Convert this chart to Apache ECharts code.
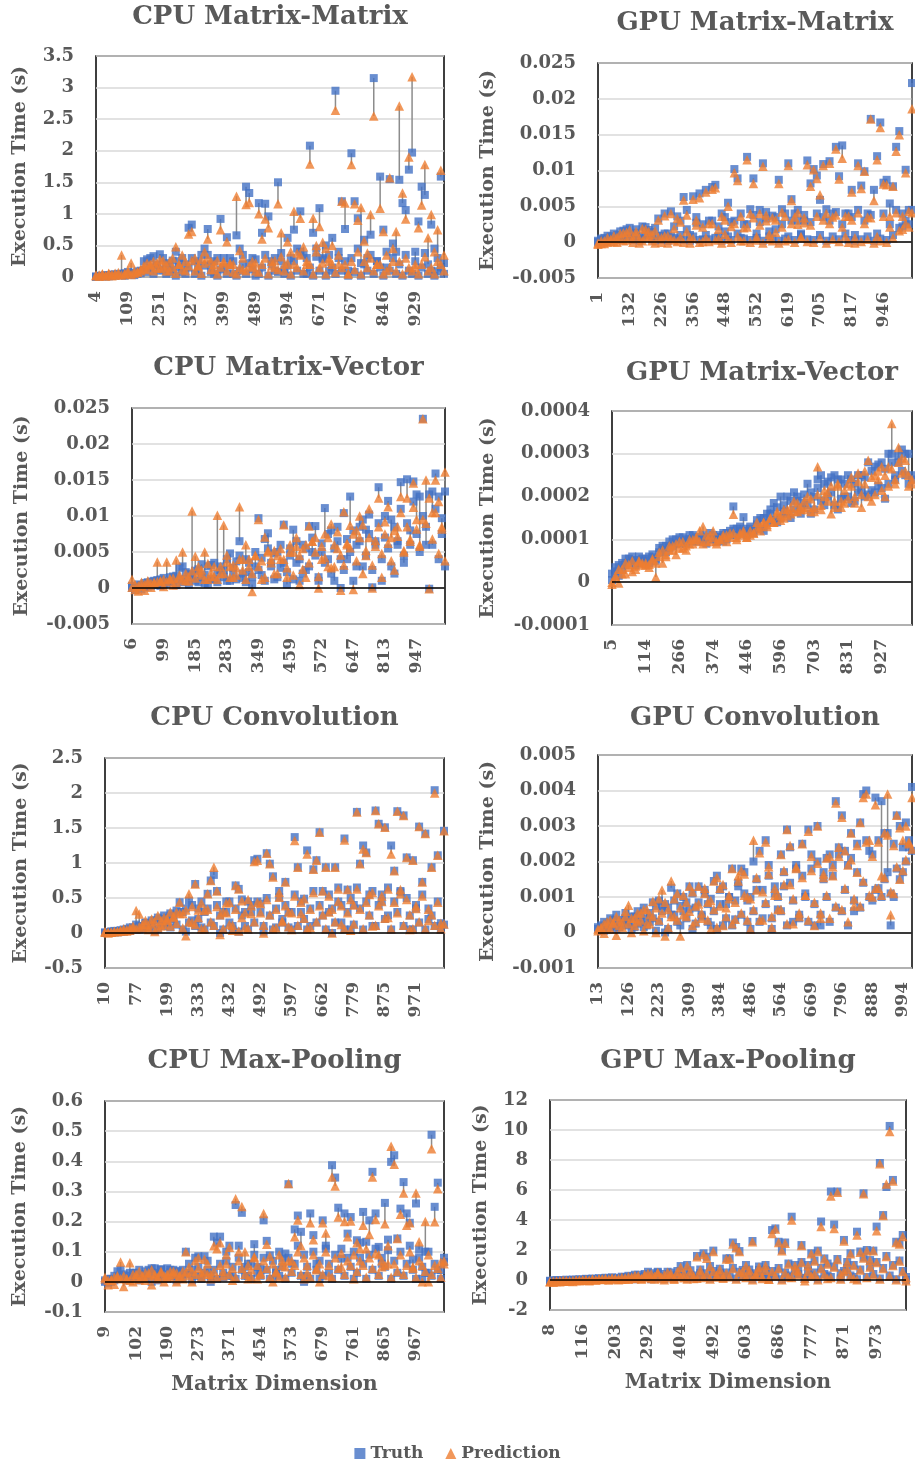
<!DOCTYPE html>
<html>
<head>
<meta charset="utf-8">
<title>Execution time: truth vs prediction</title>
<script src="https://cdn.jsdelivr.net/npm/echarts@6/dist/echarts.min.js"></script>
<style>
  html, body { margin: 0; padding: 0; background: #fff; }
  #main { width: 915px; height: 1465px; }
</style>
</head>
<body>
<div id="main"></div>
<script>
// Each panel: dims (x categories), truth/pred (one pair per dim),
// truthB/predB (second run falling in the same dimension bin)

// ---- CPU Matrix-Matrix ----
var cpuMMDims = [4,12,23,31,45,52,66,78,89,97,
  109,121,138,150,167,182,199,213,228,240,
  251,259,266,274,282,290,297,305,312,320,
  327,334,341,349,356,363,371,378,385,392,
  399,408,417,426,435,444,453,462,471,480,
  489,500,510,521,531,542,552,563,573,584,
  594,602,610,617,625,633,640,648,656,663,
  671,680,690,700,709,719,728,738,748,757,
  767,775,783,791,799,807,815,823,831,838,
  846,854,862,871,879,887,896,904,912,921,
  929,936,944,951,958,966,973,981,988,996];
var cpuMMTruth = [0.01,0.01,0.02,0.01,0.03,0.02,0.04,0.05,0.03,0.06,
  0.08,0.04,0.07,0.05,0.10,0.25,0.28,0.30,0.33,0.20,
  0.36,0.12,0.22,0.08,0.26,0.40,0.15,0.30,0.05,0.78,
  0.83,0.25,0.10,0.35,0.45,0.76,0.20,0.05,0.30,0.92,
  0.15,0.63,0.30,0.05,0.66,0.45,0.20,1.43,1.33,0.30,
  0.02,1.17,0.70,1.16,0.96,0.25,0.10,1.50,0.25,0.12,
  0.62,0.30,0.75,0.45,1.04,0.35,0.05,2.08,0.70,0.32,
  1.09,0.30,0.50,0.10,0.62,2.95,0.30,1.20,0.76,0.10,
  1.96,1.20,0.93,0.22,0.59,0.30,0.67,3.15,0.25,1.59,
  0.75,0.15,1.55,0.53,0.40,1.54,1.17,1.06,1.70,1.97,
  0.40,0.88,1.43,1.30,0.20,0.83,0.45,0.09,1.59,0.22];
var cpuMMPred = [0.02,0.03,0.05,0.02,0.06,0.04,0.03,0.07,0.35,0.05,
  0.10,0.22,0.09,0.08,0.12,0.18,0.22,0.20,0.25,0.15,
  0.28,0.16,0.19,0.10,0.30,0.48,0.20,0.35,0.10,0.68,
  0.72,0.30,0.18,0.28,0.40,0.60,0.25,0.12,0.26,0.75,
  0.22,0.56,0.20,0.08,1.28,0.42,0.12,1.15,1.18,0.25,
  0.10,1.00,0.60,0.92,0.78,0.18,0.15,1.16,0.70,0.20,
  0.56,0.40,1.04,0.38,0.93,0.48,0.20,1.79,0.93,0.50,
  0.80,0.55,0.45,0.25,0.50,2.64,0.20,1.20,1.17,0.05,
  1.78,1.16,0.90,1.10,0.57,0.38,0.99,2.55,0.20,1.09,
  0.72,0.10,1.57,0.45,0.72,2.71,1.33,0.92,1.90,3.17,
  0.15,0.78,1.14,1.78,0.62,0.99,0.40,0.75,1.69,0.35];
var cpuMMTruthB = [0.00,0.02,0.01,0.03,0.01,0.04,0.02,0.03,0.05,0.02,
  0.04,0.06,0.03,0.09,0.06,0.12,0.08,0.15,0.05,0.18,
  0.10,0.30,0.05,0.20,0.12,0.02,0.25,0.08,0.20,0.15,
  0.30,0.05,0.22,0.02,0.18,0.35,0.08,0.25,0.02,0.12,
  0.30,0.05,0.18,0.25,0.02,0.10,0.35,0.05,0.22,0.12,
  0.28,0.05,0.15,0.35,0.02,0.20,0.30,0.08,0.38,0.05,
  0.18,0.02,0.25,0.10,0.40,0.05,0.30,0.15,0.02,0.45,
  0.10,0.28,0.02,0.35,0.15,0.05,0.40,0.10,0.25,0.02,
  0.30,0.08,0.45,0.02,0.20,0.10,0.35,0.05,0.25,0.15,
  0.02,0.40,0.10,0.30,0.05,0.20,0.02,0.35,0.10,0.05,
  0.25,0.02,0.15,0.38,0.05,0.10,0.02,0.30,0.15,0.05];
var cpuMMPredB = [0.03,0.01,0.04,0.02,0.05,0.02,0.06,0.04,0.03,0.05,
  0.07,0.04,0.06,0.08,0.10,0.14,0.12,0.18,0.10,0.22,
  0.14,0.26,0.10,0.24,0.16,0.06,0.20,0.12,0.25,0.18,
  0.26,0.10,0.18,0.06,0.22,0.30,0.12,0.20,0.05,0.16,
  0.25,0.10,0.22,0.20,0.05,0.15,0.30,0.10,0.18,0.16,
  0.22,0.08,0.20,0.30,0.05,0.25,0.26,0.12,0.32,0.10,
  0.22,0.05,0.20,0.15,0.35,0.10,0.25,0.20,0.05,0.40,
  0.15,0.22,0.05,0.30,0.20,0.08,0.35,0.15,0.20,0.05,
  0.25,0.12,0.40,0.05,0.25,0.15,0.30,0.10,0.20,0.20,
  0.05,0.35,0.15,0.25,0.10,0.25,0.05,0.30,0.15,0.10,
  0.20,0.05,0.20,0.32,0.10,0.15,0.05,0.25,0.20,0.10];

// ---- GPU Matrix-Matrix ----
var gpuMMDims = [1,14,27,40,53,66,79,92,105,118,
  132,141,151,160,170,179,189,198,207,217,
  226,239,252,265,278,291,304,317,330,343,
  356,365,374,384,393,402,411,420,430,439,
  448,458,469,479,490,500,510,521,531,542,
  552,559,565,572,579,585,592,599,606,612,
  619,628,636,645,653,662,671,679,688,696,
  705,716,727,739,750,761,772,783,795,806,
  817,830,843,856,869,882,894,907,920,933,
  946,952,958,964,970,975,981,987,993,1004];
var gpuMMTruth = [0.0000,0.0003,0.0006,0.0002,0.0008,0.0004,0.0010,0.0015,0.0005,0.0018,
  0.0020,0.0008,0.0013,0.0002,0.0022,0.0011,0.0017,0.0004,0.0020,0.0033,
  0.0009,0.0040,0.0012,0.0043,0.0006,0.0036,0.0030,0.0063,0.0045,0.0010,
  0.0064,0.0027,0.0068,0.0004,0.0073,0.0030,0.0077,0.0080,0.0008,0.0040,
  0.0015,0.0055,0.0028,0.0102,0.0089,0.0006,0.0025,0.0119,0.0046,0.0089,
  0.0012,0.0045,0.0110,0.0033,0.0008,0.0037,0.0018,0.0087,0.0046,0.0005,
  0.0110,0.0060,0.0040,0.0030,0.0010,0.0030,0.0114,0.0082,0.0102,0.0093,
  0.0059,0.0109,0.0046,0.0113,0.0040,0.0133,0.0092,0.0135,0.0012,0.0040,
  0.0073,0.0002,0.0110,0.0079,0.0099,0.0040,0.0172,0.0073,0.0120,0.0167,
  0.0083,0.0087,0.0054,0.0078,0.0133,0.0155,0.0022,0.0101,0.0045,0.0222];
var gpuMMPred = [-0.0003,-0.0002,0.0002,0.0000,0.0004,0.0001,0.0007,0.0012,0.0002,0.0014,
  0.0017,0.0005,0.0010,-0.0001,0.0019,0.0008,0.0015,0.0002,0.0016,0.0031,
  0.0006,0.0037,0.0009,0.0040,0.0003,0.0033,0.0028,0.0059,0.0038,0.0006,
  0.0060,0.0024,0.0062,0.0001,0.0070,0.0026,0.0074,0.0076,0.0005,0.0036,
  0.0011,0.0050,0.0022,0.0097,0.0086,0.0002,0.0020,0.0115,0.0040,0.0082,
  0.0008,0.0040,0.0106,0.0030,0.0004,0.0034,0.0014,0.0082,0.0042,0.0002,
  0.0107,0.0058,0.0035,0.0025,0.0006,0.0027,0.0108,0.0078,0.0101,0.0089,
  0.0066,0.0107,0.0040,0.0110,0.0035,0.0130,0.0088,0.0117,0.0008,0.0036,
  0.0070,-0.0001,0.0107,0.0075,0.0099,0.0035,0.0172,0.0058,0.0115,0.0160,
  0.0081,0.0080,0.0036,0.0078,0.0127,0.0150,0.0018,0.0097,0.0043,0.0186];
var gpuMMTruthB = [0.0002,0.0005,0.0001,0.0009,0.0004,0.0012,0.0003,0.0007,0.0016,0.0006,
  0.0011,0.0003,0.0018,0.0008,0.0005,0.0021,0.0010,0.0014,0.0002,0.0009,
  0.0003,0.0012,0.0002,0.0008,0.0022,0.0004,0.0010,0.0003,0.0018,0.0002,
  0.0008,0.0035,0.0003,0.0025,0.0010,0.0004,0.0030,0.0006,0.0022,0.0002,
  0.0035,0.0008,0.0003,0.0030,0.0012,0.0040,0.0005,0.0025,0.0003,0.0038,
  0.0006,0.0028,0.0002,0.0042,0.0015,0.0005,0.0035,0.0002,0.0025,0.0040,
  0.0008,0.0030,0.0003,0.0045,0.0012,0.0038,0.0004,0.0028,0.0003,0.0040,
  0.0010,0.0035,0.0002,0.0030,0.0008,0.0042,0.0004,0.0025,0.0040,0.0003,
  0.0035,0.0010,0.0045,0.0004,0.0030,0.0008,0.0038,0.0002,0.0012,0.0005,
  0.0040,0.0003,0.0025,0.0010,0.0045,0.0020,0.0040,0.0030,0.0025,0.0045];
var gpuMMPredB = [-0.0001,0.0002,-0.0002,0.0006,0.0001,0.0009,0.0000,0.0004,0.0013,0.0003,
  0.0008,0.0000,0.0015,0.0005,0.0002,0.0018,0.0007,0.0011,-0.0001,0.0006,
  0.0000,0.0009,-0.0001,0.0005,0.0019,0.0001,0.0007,0.0000,0.0015,-0.0001,
  0.0005,0.0031,0.0000,0.0021,0.0006,0.0001,0.0026,0.0003,0.0018,-0.0001,
  0.0031,0.0004,0.0000,0.0026,0.0008,0.0036,0.0002,0.0021,0.0000,0.0034,
  0.0003,0.0024,-0.0001,0.0038,0.0011,0.0002,0.0031,-0.0001,0.0021,0.0036,
  0.0004,0.0026,0.0000,0.0041,0.0008,0.0034,0.0001,0.0024,0.0000,0.0036,
  0.0006,0.0031,-0.0001,0.0026,0.0004,0.0038,0.0001,0.0021,0.0036,0.0000,
  0.0031,0.0006,0.0041,0.0001,0.0026,0.0004,0.0034,-0.0001,0.0008,0.0002,
  0.0036,0.0000,0.0021,0.0006,0.0041,0.0016,0.0036,0.0026,0.0021,0.0041];

// ---- CPU Matrix-Vector ----
var cpuMVDims = [6,15,24,33,43,52,61,71,80,90,
  99,108,116,125,134,142,151,160,168,177,
  185,195,205,215,224,234,244,254,264,273,
  283,290,296,303,309,316,323,329,336,342,
  349,360,371,382,393,404,415,426,437,448,
  459,470,482,493,504,516,527,538,550,561,
  572,580,587,595,602,610,617,625,632,640,
  647,664,680,697,713,730,747,763,780,796,
  813,826,840,853,867,880,893,907,920,934,
  947,957,962,967,973,978,988,993,998,1003];
var cpuMVTruth = [0.0000,-0.0003,0.0002,0.0004,0.0001,0.0008,0.0003,0.0010,0.0006,0.0012,
  0.0005,0.0010,0.0015,0.0008,0.0017,0.0028,0.0030,0.0012,0.0020,0.0015,
  0.0024,0.0008,0.0033,0.0018,0.0006,0.0032,0.0012,0.0020,0.0030,0.0025,
  0.0010,0.0048,0.0020,0.0037,0.0065,0.0014,0.0040,0.0022,0.0005,0.0030,
  0.0097,0.0018,0.0068,0.0076,0.0035,0.0012,0.0050,0.0028,0.0088,0.0005,
  0.0055,0.0081,0.0035,0.0010,0.0060,0.0025,0.0086,0.0050,0.0086,0.0015,
  0.0050,0.0111,0.0040,0.0080,0.0010,0.0065,0.0000,0.0104,0.0040,0.0127,
  0.0010,0.0060,0.0085,0.0030,0.0081,0.0102,0.0001,0.0065,0.0140,0.0010,
  0.0070,0.0121,0.0095,0.0020,0.0060,0.0147,0.0035,0.0151,0.0080,0.0148,
  0.0130,0.0127,0.0235,0.0060,-0.0001,0.0134,0.0159,0.0127,0.0097,0.0134];
var cpuMVPred = [0.0012,-0.0002,-0.0004,0.0008,-0.0003,0.0010,0.0001,0.0007,0.0036,0.0009,
  0.0002,0.0036,0.0012,0.0004,0.0039,0.0014,0.0050,0.0010,0.0016,0.0107,
  0.0044,0.0030,0.0025,0.0050,0.0012,0.0022,0.0016,0.0101,0.0020,0.0087,
  0.0046,0.0030,0.0015,0.0028,0.0113,0.0040,0.0060,0.0030,-0.0005,0.0045,
  0.0095,0.0012,0.0071,0.0052,0.0040,0.0020,0.0045,0.0040,0.0088,0.0015,
  0.0060,0.0050,0.0070,0.0005,0.0055,0.0015,0.0086,0.0065,0.0070,0.0000,
  0.0040,0.0075,0.0030,0.0089,0.0030,0.0055,-0.0003,0.0106,0.0060,0.0087,
  -0.0002,0.0080,0.0100,0.0020,0.0045,0.0110,0.0000,0.0058,0.0125,0.0015,
  0.0075,0.0113,0.0070,0.0025,0.0085,0.0127,0.0050,0.0125,0.0065,0.0146,
  0.0095,0.0060,0.0235,0.0150,-0.0001,0.0105,0.0150,0.0120,0.0085,0.0161];
var cpuMVTruthB = [0.0003,0.0001,0.0005,-0.0002,0.0007,0.0002,0.0009,0.0004,0.0011,0.0003,
  0.0014,0.0006,0.0009,0.0016,0.0004,0.0012,0.0008,0.0022,0.0005,0.0018,
  0.0010,0.0026,0.0015,0.0007,0.0030,0.0012,0.0035,0.0008,0.0025,0.0015,
  0.0040,0.0010,0.0028,0.0012,0.0045,0.0020,0.0008,0.0035,0.0015,0.0050,
  0.0025,0.0042,0.0010,0.0055,0.0030,0.0048,0.0015,0.0060,0.0035,0.0022,
  0.0045,0.0012,0.0065,0.0040,0.0020,0.0055,0.0030,0.0070,0.0045,0.0010,
  0.0062,0.0035,0.0075,0.0020,0.0055,0.0085,0.0040,0.0025,0.0068,0.0050,
  0.0080,0.0030,0.0065,0.0095,0.0045,0.0075,0.0025,0.0060,0.0090,0.0040,
  0.0100,0.0055,0.0030,0.0085,0.0065,0.0110,0.0045,0.0090,0.0060,0.0120,
  0.0075,0.0050,0.0100,0.0085,0.0130,0.0060,0.0110,0.0040,0.0075,0.0030];
var cpuMVPredB = [0.0001,0.0004,0.0003,0.0002,0.0005,0.0006,0.0007,0.0008,0.0009,0.0010,
  0.0012,0.0009,0.0013,0.0014,0.0008,0.0018,0.0011,0.0020,0.0010,0.0024,
  0.0014,0.0022,0.0018,0.0012,0.0034,0.0016,0.0030,0.0012,0.0030,0.0020,
  0.0036,0.0015,0.0032,0.0018,0.0040,0.0025,0.0012,0.0040,0.0020,0.0045,
  0.0030,0.0038,0.0015,0.0050,0.0035,0.0052,0.0020,0.0055,0.0040,0.0028,
  0.0050,0.0018,0.0058,0.0045,0.0026,0.0060,0.0035,0.0065,0.0050,0.0016,
  0.0058,0.0042,0.0070,0.0028,0.0060,0.0078,0.0046,0.0032,0.0062,0.0056,
  0.0075,0.0038,0.0070,0.0088,0.0052,0.0070,0.0032,0.0066,0.0085,0.0048,
  0.0092,0.0062,0.0038,0.0080,0.0072,0.0105,0.0052,0.0085,0.0068,0.0112,
  0.0082,0.0058,0.0095,0.0090,0.0125,0.0068,0.0105,0.0048,0.0082,0.0038];

// ---- GPU Matrix-Vector ----
var gpuMVDims = [5,16,27,38,49,60,71,82,92,103,
  114,129,144,159,175,190,205,220,236,251,
  266,277,288,298,309,320,331,342,352,363,
  374,381,388,396,403,410,417,424,432,439,
  446,461,476,491,506,521,536,551,566,581,
  596,607,617,628,639,650,660,671,682,692,
  703,716,729,741,754,767,780,793,805,818,
  831,841,850,860,869,879,889,898,908,917,
  927,935,943,951,959,967,975,983,991,999];
var gpuMVTruth = [0.000020,0.000035,0.000015,0.000045,0.000040,0.000055,0.000050,0.000052,0.000045,0.000055,
  0.000050,0.000060,0.000058,0.000050,0.000080,0.000075,0.000085,0.000080,0.000100,0.000090,
  0.000105,0.000095,0.000100,0.000100,0.000110,0.000095,0.000105,0.000110,0.000090,0.000115,
  0.000100,0.000105,0.000110,0.000095,0.000115,0.000120,0.000177,0.000125,0.000130,0.000152,
  0.000120,0.000125,0.000115,0.000145,0.000150,0.000120,0.000160,0.000170,0.000185,0.000140,
  0.000200,0.000165,0.000200,0.000150,0.000210,0.000190,0.000160,0.000185,0.000230,0.000160,
  0.000200,0.000240,0.000250,0.000180,0.000235,0.000210,0.000250,0.000170,0.000240,0.000200,
  0.000250,0.000185,0.000230,0.000210,0.000250,0.000200,0.000280,0.000215,0.000270,0.000225,
  0.000280,0.000195,0.000300,0.000300,0.000240,0.000280,0.000310,0.000250,0.000300,0.000240];
var gpuMVPred = [-0.000005,0.000010,-0.000002,0.000030,0.000020,0.000042,0.000025,0.000038,0.000048,0.000045,
  0.000040,0.000042,0.000050,0.000012,0.000070,0.000045,0.000065,0.000075,0.000085,0.000065,
  0.000095,0.000080,0.000075,0.000090,0.000100,0.000105,0.000120,0.000130,0.000095,0.000110,
  0.000120,0.000095,0.000100,0.000105,0.000110,0.000115,0.000159,0.000100,0.000110,0.000120,
  0.000105,0.000110,0.000115,0.000140,0.000130,0.000140,0.000135,0.000150,0.000140,0.000160,
  0.000155,0.000150,0.000170,0.000160,0.000190,0.000165,0.000175,0.000170,0.000200,0.000165,
  0.000175,0.000270,0.000170,0.000200,0.000210,0.000160,0.000190,0.000230,0.000175,0.000185,
  0.000230,0.000245,0.000200,0.000255,0.000175,0.000260,0.000285,0.000190,0.000250,0.000240,
  0.000270,0.000200,0.000270,0.000371,0.000230,0.000315,0.000290,0.000260,0.000250,0.000230];
var gpuMVTruthB = [0.000005,0.000025,0.000040,0.000030,0.000055,0.000045,0.000060,0.000040,0.000060,0.000050,
  0.000055,0.000045,0.000065,0.000055,0.000070,0.000085,0.000070,0.000095,0.000085,0.000100,
  0.000090,0.000105,0.000090,0.000110,0.000095,0.000105,0.000100,0.000095,0.000105,0.000100,
  0.000110,0.000095,0.000105,0.000115,0.000100,0.000110,0.000125,0.000110,0.000120,0.000125,
  0.000110,0.000130,0.000120,0.000135,0.000125,0.000150,0.000140,0.000160,0.000145,0.000175,
  0.000150,0.000180,0.000160,0.000190,0.000170,0.000200,0.000175,0.000205,0.000180,0.000210,
  0.000170,0.000220,0.000190,0.000230,0.000200,0.000245,0.000180,0.000240,0.000195,0.000230,
  0.000200,0.000240,0.000190,0.000250,0.000215,0.000245,0.000205,0.000260,0.000210,0.000275,
  0.000220,0.000265,0.000230,0.000280,0.000250,0.000295,0.000260,0.000300,0.000230,0.000250];
var gpuMVPredB = [0.000000,0.000015,0.000030,0.000020,0.000045,0.000035,0.000050,0.000030,0.000050,0.000040,
  0.000045,0.000035,0.000055,0.000045,0.000060,0.000075,0.000060,0.000085,0.000075,0.000090,
  0.000080,0.000095,0.000085,0.000100,0.000090,0.000100,0.000095,0.000090,0.000110,0.000095,
  0.000105,0.000090,0.000100,0.000110,0.000095,0.000105,0.000115,0.000105,0.000115,0.000115,
  0.000105,0.000120,0.000115,0.000125,0.000120,0.000140,0.000130,0.000150,0.000140,0.000165,
  0.000145,0.000170,0.000155,0.000175,0.000165,0.000185,0.000170,0.000190,0.000175,0.000195,
  0.000165,0.000205,0.000180,0.000215,0.000190,0.000225,0.000175,0.000225,0.000190,0.000215,
  0.000195,0.000225,0.000185,0.000235,0.000205,0.000230,0.000200,0.000245,0.000205,0.000260,
  0.000215,0.000250,0.000225,0.000265,0.000240,0.000280,0.000255,0.000285,0.000225,0.000240];

// ---- CPU Convolution ----
var cpuConvDims = [10,16,23,30,36,43,50,57,63,70,
  77,89,101,114,126,138,150,162,175,187,
  199,212,226,239,252,266,279,293,306,320,
  333,343,353,363,373,383,393,403,412,422,
  432,438,444,450,456,462,468,474,480,486,
  492,503,513,524,534,545,555,566,576,587,
  597,604,610,617,623,630,636,643,649,656,
  662,674,686,697,709,721,732,744,756,767,
  779,789,798,808,817,827,837,846,856,865,
  875,885,894,904,913,923,933,942,952,961,
  971,974,977,980,983,986,989,992,995,998];
var cpuConvTruth = [0.00,0.01,0.02,0.01,0.03,0.02,0.05,0.04,0.08,0.06,
  0.12,0.05,0.10,0.15,0.08,0.18,0.03,0.22,0.12,0.25,
  0.15,0.28,0.20,0.32,0.44,0.30,0.02,0.46,0.18,0.70,
  0.35,0.08,0.30,0.56,0.75,0.83,0.60,0.00,0.30,0.45,
  0.15,0.05,0.68,0.63,0.25,0.10,0.45,0.30,1.04,1.06,
  0.42,0.02,1.14,0.99,0.81,0.08,0.51,0.20,0.73,0.30,
  0.05,1.37,0.94,0.30,0.49,1.18,0.10,0.91,1.04,1.44,
  0.60,0.94,0.30,0.00,0.94,0.45,0.15,1.35,0.62,0.05,
  0.40,1.73,0.99,1.25,1.15,0.55,0.10,1.75,1.56,0.45,
  1.51,0.25,1.25,0.89,1.74,0.60,1.68,1.08,0.05,1.04,
  0.35,1.52,0.73,1.42,0.20,0.94,2.04,1.11,0.14,1.46];
var cpuConvPred = [0.01,0.00,0.01,0.02,0.02,0.04,0.06,0.03,0.07,0.10,
  0.32,0.27,0.12,0.18,0.05,0.20,0.02,0.25,0.10,0.22,
  0.18,0.30,0.22,0.30,0.44,0.28,-0.04,0.56,0.15,0.70,
  0.33,0.06,0.32,0.56,0.75,0.94,0.60,-0.02,0.30,0.43,
  0.12,0.04,0.68,0.63,0.22,0.08,0.48,0.28,1.02,1.04,
  0.42,0.00,1.14,0.99,0.80,0.07,0.51,0.18,0.73,0.30,
  0.05,1.32,0.94,0.28,0.49,1.13,0.08,0.91,1.04,1.44,
  0.60,0.94,0.30,0.00,0.94,0.45,0.12,1.33,0.62,0.04,
  0.40,1.73,0.99,1.20,1.15,0.55,0.10,1.75,1.56,0.45,
  1.51,0.22,1.13,0.89,1.74,0.62,1.68,1.08,0.05,1.04,
  0.35,1.52,0.73,1.42,0.18,0.94,2.00,1.11,0.14,1.46];
var cpuConvTruthB = [0.01,0.00,0.02,0.03,0.01,0.04,0.02,0.06,0.03,0.08,
  0.05,0.10,0.06,0.14,0.08,0.12,0.18,0.06,0.20,0.10,
  0.22,0.08,0.25,0.12,0.30,0.05,0.35,0.15,0.40,0.10,
  0.20,0.45,0.05,0.35,0.15,0.10,0.40,0.25,0.05,0.30,
  0.45,0.10,0.35,0.02,0.48,0.30,0.05,0.40,0.15,0.45,
  0.30,0.10,0.50,0.25,0.05,0.35,0.60,0.15,0.40,0.08,
  0.30,0.55,0.10,0.45,0.20,0.05,0.35,0.60,0.15,0.40,
  0.25,0.05,0.55,0.35,0.15,0.65,0.40,0.05,0.30,0.50,
  0.12,0.65,0.35,0.05,0.45,0.25,0.60,0.10,0.40,0.55,
  0.20,0.65,0.05,0.45,0.30,0.58,0.10,0.50,0.25,0.05,
  0.40,0.15,0.55,0.05,0.35,0.25,0.10,0.45,0.05,0.12];
var cpuConvPredB = [0.02,0.01,0.01,0.02,0.02,0.03,0.03,0.05,0.04,0.07,
  0.06,0.09,0.07,0.12,0.09,0.13,0.16,0.08,0.18,0.12,
  0.20,0.10,0.24,0.14,0.28,0.07,0.33,0.16,0.38,0.12,
  0.22,0.43,0.06,0.34,0.16,0.11,0.38,0.26,0.06,0.29,
  0.44,0.11,0.34,0.03,0.46,0.29,0.06,0.39,0.16,0.44,
  0.29,0.11,0.48,0.26,0.06,0.34,0.58,0.16,0.39,0.09,
  0.29,0.53,0.11,0.44,0.21,0.06,0.34,0.58,0.16,0.39,
  0.26,0.06,0.53,0.34,0.16,0.63,0.39,0.06,0.29,0.48,
  0.13,0.63,0.34,0.06,0.44,0.26,0.58,0.11,0.39,0.53,
  0.21,0.63,0.06,0.44,0.29,0.56,0.11,0.48,0.26,0.06,
  0.39,0.16,0.53,0.06,0.34,0.26,0.11,0.44,0.06,0.13];

// ---- GPU Convolution ----
var gpuConvDims = [13,24,35,47,58,69,81,92,103,115,
  126,136,146,155,165,175,184,194,204,213,
  223,232,240,249,258,266,275,283,292,300,
  309,317,324,332,339,347,354,362,369,377,
  384,394,404,415,425,435,445,455,466,476,
  486,494,502,509,517,525,533,541,548,556,
  564,575,585,596,606,617,627,638,648,659,
  669,682,694,707,720,732,745,758,771,783,
  796,805,814,824,833,842,851,860,870,879,
  888,899,909,920,930,941,952,962,973,983,
  994,997,999,1002];
var gpuConvTruth = [0.00010,0.00020,0.00005,0.00025,0.00015,0.00035,0.00010,0.00030,0.00020,0.00040,
  0.00030,0.00010,0.00045,0.00025,0.00050,0.00015,0.00040,0.00030,0.00085,0.00005,
  0.00090,0.00075,0.00000,0.00070,0.00126,0.00050,0.00110,0.00020,0.00060,0.00085,
  0.00130,0.00010,0.00070,0.00130,0.00045,0.00110,0.00080,0.00020,0.00145,0.00160,
  0.00120,0.00020,0.00080,0.00100,0.00180,0.00037,0.00130,0.00180,0.00170,0.00090,
  0.00010,0.00200,0.00120,0.00230,0.00040,0.00260,0.00190,0.00010,0.00110,0.00065,
  0.00220,0.00130,0.00290,0.00240,0.00030,0.00180,0.00040,0.00250,0.00110,0.00290,
  0.00220,0.00020,0.00300,0.00020,0.00150,0.00210,0.00220,0.00160,0.00370,0.00240,
  0.00330,0.00230,0.00190,0.00280,0.00060,0.00170,0.00310,0.00390,0.00400,0.00230,
  0.00090,0.00380,0.00125,0.00370,0.00280,0.00170,0.00020,0.00100,0.00330,0.00150,
  0.00240,0.00310,0.00240,0.00410];
var gpuConvPred = [0.00005,0.00015,-0.00002,0.00030,0.00010,0.00028,-0.00008,0.00035,0.00015,0.00045,
  0.00077,0.00000,0.00040,0.00030,0.00055,0.00005,0.00065,0.00025,0.00088,0.00000,
  0.00095,0.00120,-0.00010,0.00065,0.00145,0.00045,0.00110,-0.00010,0.00050,0.00085,
  0.00130,0.00020,0.00075,0.00130,0.00040,0.00110,0.00085,0.00010,0.00145,0.00155,
  0.00125,0.00020,0.00070,0.00105,0.00180,0.00037,0.00160,0.00175,0.00165,0.00100,
  0.00010,0.00260,0.00120,0.00225,0.00035,0.00255,0.00185,0.00015,0.00105,0.00065,
  0.00220,0.00135,0.00290,0.00245,0.00025,0.00180,0.00045,0.00250,0.00105,0.00285,
  0.00215,0.00020,0.00300,0.00040,0.00155,0.00210,0.00215,0.00160,0.00365,0.00240,
  0.00325,0.00230,0.00190,0.00280,0.00075,0.00170,0.00310,0.00380,0.00390,0.00260,
  0.00100,0.00360,0.00125,0.00160,0.00280,0.00390,0.00050,0.00110,0.00330,0.00150,
  0.00260,0.00300,0.00250,0.00380];
var gpuConvTruthB = [0.00015,0.00005,0.00030,0.00010,0.00040,0.00020,0.00050,0.00015,0.00035,0.00055,
  0.00020,0.00045,0.00015,0.00060,0.00030,0.00070,0.00020,0.00055,0.00040,0.00075,
  0.00030,0.00060,0.00080,0.00010,0.00050,0.00090,0.00030,0.00075,0.00100,0.00040,
  0.00065,0.00110,0.00025,0.00085,0.00050,0.00120,0.00030,0.00095,0.00060,0.00010,
  0.00080,0.00130,0.00040,0.00100,0.00020,0.00090,0.00140,0.00050,0.00110,0.00030,
  0.00100,0.00060,0.00150,0.00030,0.00120,0.00080,0.00160,0.00040,0.00130,0.00100,
  0.00060,0.00170,0.00020,0.00140,0.00090,0.00190,0.00050,0.00160,0.00100,0.00030,
  0.00180,0.00080,0.00200,0.00050,0.00170,0.00100,0.00030,0.00190,0.00070,0.00220,
  0.00060,0.00120,0.00020,0.00210,0.00090,0.00250,0.00070,0.00140,0.00260,0.00100,
  0.00220,0.00120,0.00260,0.00100,0.00150,0.00280,0.00110,0.00250,0.00180,0.00300,
  0.00170,0.00200,0.00260,0.00230];
var gpuConvPredB = [0.00010,0.00010,0.00025,0.00015,0.00035,0.00025,0.00045,0.00020,0.00030,0.00060,
  0.00025,0.00040,0.00020,0.00055,0.00035,0.00065,0.00025,0.00050,0.00045,0.00070,
  0.00035,0.00055,0.00085,0.00015,0.00045,0.00095,0.00035,0.00070,0.00105,0.00045,
  0.00060,0.00115,0.00030,0.00080,0.00055,0.00125,0.00035,0.00090,0.00065,0.00015,
  0.00075,0.00135,0.00045,0.00095,0.00025,0.00085,0.00145,0.00055,0.00105,0.00035,
  0.00095,0.00065,0.00155,0.00035,0.00115,0.00085,0.00165,0.00045,0.00125,0.00105,
  0.00065,0.00175,0.00025,0.00135,0.00095,0.00185,0.00055,0.00155,0.00105,0.00035,
  0.00175,0.00085,0.00195,0.00055,0.00165,0.00105,0.00040,0.00185,0.00075,0.00215,
  0.00065,0.00125,0.00030,0.00205,0.00095,0.00245,0.00075,0.00145,0.00255,0.00105,
  0.00215,0.00125,0.00255,0.00105,0.00155,0.00275,0.00115,0.00245,0.00185,0.00295,
  0.00175,0.00205,0.00255,0.00235];

// ---- CPU Max-Pooling ----
var cpuMPDims = [9,18,27,37,46,55,65,74,83,93,
  102,111,120,128,137,146,155,164,172,181,
  190,198,207,215,223,232,240,248,256,265,
  273,283,293,302,312,322,332,342,351,361,
  371,379,388,396,404,413,421,429,437,446,
  454,466,478,490,502,514,525,537,549,561,
  573,584,594,605,615,626,637,647,658,668,
  679,687,695,704,712,720,728,736,745,753,
  761,771,782,792,803,813,823,834,844,855,
  865,875,885,896,906,916,926,936,947,957,
  967,971,974,978,981,985,988,992,995,999];
var cpuMPTruth = [0.000,-0.005,0.010,0.005,0.035,0.040,0.010,0.020,0.030,0.015,
  0.030,0.005,0.025,0.010,0.040,0.000,0.045,0.020,0.042,0.010,
  0.045,0.020,0.040,0.005,0.035,0.015,0.100,0.030,0.005,0.080,
  0.085,0.020,0.085,0.040,0.000,0.150,0.130,0.150,0.015,0.070,
  0.120,0.020,0.255,0.120,0.229,0.050,0.020,0.060,0.125,0.030,
  0.045,0.204,0.136,0.088,0.010,0.040,0.020,0.077,0.094,0.324,
  0.060,0.174,0.220,0.166,0.000,0.020,0.227,0.155,0.060,0.010,
  0.204,0.110,0.030,0.387,0.346,0.246,0.077,0.227,0.160,0.215,
  0.010,0.138,0.080,0.232,0.133,0.204,0.365,0.227,0.116,0.060,
  0.262,0.105,0.398,0.420,0.144,0.243,0.331,0.227,0.196,0.074,
  0.260,0.107,0.010,0.100,0.030,0.488,0.249,0.329,0.039,0.066];
var cpuMPPred = [0.015,-0.010,0.005,-0.008,0.020,0.066,-0.015,0.010,0.063,0.000,
  0.025,0.008,0.015,0.005,0.030,-0.010,0.020,0.015,0.030,0.000,
  0.025,0.015,0.035,0.000,0.020,0.010,0.100,0.020,0.000,0.070,
  0.080,0.030,0.075,0.025,0.010,0.120,0.110,0.130,0.020,0.060,
  0.115,0.005,0.276,0.100,0.250,0.100,0.010,0.040,0.083,0.010,
  0.030,0.227,0.125,0.085,0.000,0.030,0.015,0.070,0.050,0.326,
  0.070,0.150,0.205,0.120,0.010,0.030,0.196,0.140,0.040,0.000,
  0.196,0.162,0.020,0.348,0.318,0.215,0.050,0.200,0.150,0.202,
  0.010,0.130,0.070,0.188,0.110,0.157,0.348,0.207,0.090,0.050,
  0.193,0.060,0.450,0.390,0.144,0.224,0.295,0.188,0.196,0.050,
  0.295,0.133,0.000,0.200,0.000,0.442,0.199,0.309,0.066,0.060];
var cpuMPTruthB = [0.005,0.010,0.000,0.020,0.010,0.015,0.025,0.005,0.010,0.030,
  0.020,0.040,0.015,0.035,0.025,0.045,0.030,0.005,0.040,0.025,
  0.010,0.040,0.020,0.035,0.010,0.040,0.025,0.060,0.040,0.020,
  0.050,0.010,0.030,0.070,0.020,0.040,0.010,0.060,0.030,0.100,
  0.020,0.050,0.010,0.080,0.040,0.020,0.060,0.010,0.090,0.050,
  0.020,0.080,0.040,0.010,0.070,0.030,0.100,0.050,0.010,0.080,
  0.030,0.060,0.120,0.020,0.090,0.050,0.010,0.100,0.040,0.070,
  0.020,0.120,0.060,0.010,0.090,0.040,0.110,0.020,0.080,0.050,
  0.100,0.030,0.130,0.060,0.010,0.090,0.040,0.110,0.020,0.080,
  0.050,0.140,0.010,0.070,0.030,0.100,0.020,0.060,0.120,0.040,
  0.010,0.080,0.050,0.030,0.100,0.020,0.060,0.040,0.010,0.080];
var cpuMPPredB = [0.010,0.005,0.008,0.015,0.015,0.010,0.020,0.010,0.005,0.025,
  0.015,0.035,0.020,0.030,0.020,0.040,0.025,0.010,0.035,0.020,
  0.015,0.035,0.025,0.030,0.015,0.035,0.030,0.050,0.035,0.025,
  0.045,0.015,0.035,0.060,0.025,0.035,0.015,0.055,0.035,0.090,
  0.025,0.045,0.015,0.070,0.045,0.025,0.055,0.015,0.080,0.055,
  0.025,0.070,0.045,0.015,0.060,0.035,0.090,0.055,0.015,0.070,
  0.035,0.055,0.100,0.025,0.080,0.055,0.015,0.090,0.045,0.060,
  0.025,0.100,0.055,0.015,0.080,0.045,0.095,0.025,0.070,0.055,
  0.090,0.035,0.110,0.055,0.015,0.080,0.045,0.095,0.025,0.070,
  0.055,0.120,0.015,0.060,0.035,0.090,0.025,0.055,0.100,0.045,
  0.015,0.070,0.055,0.035,0.090,0.025,0.055,0.045,0.015,0.070];

// ---- GPU Max-Pooling ----
var gpuMPDims = [8,19,30,41,51,62,73,84,94,105,
  116,125,133,142,151,160,168,177,186,194,
  203,212,221,230,238,247,256,265,274,283,
  292,303,314,326,337,348,359,370,382,393,
  404,413,422,430,439,448,457,466,474,483,
  492,503,514,525,536,548,559,570,581,592,
  603,611,620,628,636,645,653,661,669,678,
  686,695,704,713,722,732,741,750,759,768,
  777,786,796,805,815,824,833,843,852,862,
  871,881,891,902,912,922,932,942,953,963,
  973,976,979,981,984,987,992,995,997,1000];
var gpuMPTruth = [-0.05,-0.10,0.00,-0.08,-0.05,-0.10,0.00,-0.05,0.02,-0.02,
  0.00,0.05,-0.02,0.05,0.02,0.08,0.05,0.10,0.02,0.12,
  0.05,0.15,0.08,0.20,0.10,0.25,0.05,0.35,0.15,0.30,
  0.55,0.05,0.30,0.55,0.15,0.40,0.20,0.50,0.10,0.30,
  0.93,0.20,1.00,0.35,0.15,1.60,0.45,1.78,1.55,0.93,
  1.96,0.25,0.45,0.30,1.44,1.45,2.50,2.20,1.93,0.67,
  1.00,0.45,2.60,0.30,0.67,0.20,0.67,0.15,3.33,3.44,
  2.55,2.00,2.50,0.30,4.22,1.00,0.67,2.33,0.10,1.00,
  1.78,0.50,1.96,3.90,1.44,0.30,5.90,3.70,5.90,0.45,
  2.67,0.80,1.78,0.20,3.22,1.90,5.78,2.00,1.33,1.96,
  3.56,7.80,4.33,6.20,10.27,6.67,2.55,2.44,3.00,0.00];
var gpuMPPred = [-0.10,-0.15,-0.05,-0.12,-0.02,-0.08,-0.05,-0.10,0.00,-0.05,
  0.02,0.00,-0.05,0.03,0.00,0.05,0.08,0.05,0.00,0.10,
  0.08,0.10,0.05,0.15,0.05,0.20,0.10,0.30,0.10,0.25,
  0.45,0.10,0.25,0.50,0.10,0.35,0.15,0.45,0.05,0.25,
  0.85,0.15,0.95,0.30,0.10,1.55,0.40,1.70,1.45,0.90,
  1.90,0.20,0.40,0.20,1.40,1.40,2.40,2.15,1.90,0.60,
  0.95,0.40,2.55,0.25,0.60,0.10,0.65,0.05,3.10,3.40,
  2.50,1.95,2.45,0.20,4.00,0.95,0.60,2.30,-0.05,0.95,
  1.75,0.40,1.90,3.56,1.40,0.10,5.60,3.44,5.85,0.40,
  2.60,0.70,1.75,0.10,3.00,1.85,5.75,1.95,1.30,1.95,
  3.29,7.75,4.30,6.40,9.90,6.60,2.50,2.40,2.90,-0.05];
var gpuMPTruthB = [-0.08,-0.02,-0.06,0.00,-0.04,0.02,-0.02,0.03,0.00,0.05,
  0.02,0.08,0.04,0.10,0.06,0.12,0.08,0.15,0.10,0.18,
  0.12,0.05,0.22,0.10,0.28,0.15,0.35,0.20,0.10,0.40,
  0.20,0.45,0.10,0.50,0.25,0.05,0.55,0.30,0.15,0.60,
  0.25,0.50,0.10,0.65,0.30,0.15,0.70,0.20,0.45,0.10,
  0.60,0.35,0.75,0.15,0.50,0.25,0.80,0.10,0.55,0.30,
  0.20,0.70,0.05,0.45,0.90,0.25,1.00,0.10,0.60,0.30,
  0.80,0.05,0.50,1.10,0.20,0.70,0.40,1.20,0.15,0.60,
  0.30,1.30,0.05,0.80,0.40,1.10,0.20,0.90,1.40,0.10,
  0.60,1.20,0.30,1.00,0.05,0.70,1.50,0.20,0.90,0.40,
  1.20,0.10,0.80,1.60,0.30,1.00,0.05,1.30,0.60,0.20];
var gpuMPPredB = [-0.12,-0.06,-0.10,-0.04,-0.08,-0.02,-0.06,-0.01,-0.04,0.01,
  -0.02,0.04,0.00,0.06,0.02,0.08,0.04,0.11,0.06,0.14,
  0.08,0.01,0.18,0.06,0.24,0.11,0.31,0.16,0.06,0.36,
  0.16,0.41,0.06,0.46,0.21,0.01,0.51,0.26,0.11,0.56,
  0.21,0.46,0.06,0.61,0.26,0.11,0.66,0.16,0.41,0.06,
  0.56,0.31,0.71,0.11,0.46,0.21,0.76,0.06,0.51,0.26,
  0.16,0.66,0.01,0.41,0.86,0.21,0.96,0.06,0.56,0.26,
  0.76,0.01,0.46,1.06,0.16,0.66,0.36,1.16,0.11,0.56,
  0.26,1.26,0.01,0.76,0.36,1.06,0.16,0.86,1.36,0.06,
  0.56,1.16,0.26,0.96,0.01,0.66,1.46,0.16,0.86,0.36,
  1.16,0.06,0.76,1.56,0.26,0.96,0.01,1.26,0.56,0.16];

var FONT = 'DejaVu Serif';
var TXT = '#595959';
var BLUE = '#4472C4';
var ORANGE = '#ED7D31';

var panels = [
  { title: 'CPU Matrix-Matrix', dims: cpuMMDims, truth: cpuMMTruth, pred: cpuMMPred,
    truthB: cpuMMTruthB, predB: cpuMMPredB,
    box: [96, 56, 348, 221], titleY: 17, min: 0, max: 3.5, step: 0.5, nameGap: 66 },
  { title: 'GPU Matrix-Matrix', dims: gpuMMDims, truth: gpuMMTruth, pred: gpuMMPred,
    truthB: gpuMMTruthB, predB: gpuMMPredB,
    box: [598, 63, 314, 215], titleY: 23, min: -0.005, max: 0.025, step: 0.005, nameGap: 100 },
  { title: 'CPU Matrix-Vector', dims: cpuMVDims, truth: cpuMVTruth, pred: cpuMVPred,
    truthB: cpuMVTruthB, predB: cpuMVPredB,
    box: [132, 408, 313, 216], titleY: 368, min: -0.005, max: 0.025, step: 0.005, nameGap: 100 },
  { title: 'GPU Matrix-Vector', dims: gpuMVDims, truth: gpuMVTruth, pred: gpuMVPred,
    truthB: gpuMVTruthB, predB: gpuMVPredB,
    box: [612, 411, 300, 214], titleY: 373, min: -0.0001, max: 0.0004, step: 0.0001, nameGap: 114 },
  { title: 'CPU Convolution', dims: cpuConvDims, truth: cpuConvTruth, pred: cpuConvPred,
    truthB: cpuConvTruthB, predB: cpuConvPredB,
    box: [105, 758, 339, 210], titleY: 718, min: -0.5, max: 2.5, step: 0.5, nameGap: 74 },
  { title: 'GPU Convolution', dims: gpuConvDims, truth: gpuConvTruth, pred: gpuConvPred,
    truthB: gpuConvTruthB, predB: gpuConvPredB,
    box: [598, 755, 314, 213], titleY: 718, min: -0.001, max: 0.005, step: 0.001, nameGap: 100 },
  { title: 'CPU Max-Pooling', dims: cpuMPDims, truth: cpuMPTruth, pred: cpuMPPred,
    truthB: cpuMPTruthB, predB: cpuMPPredB,
    box: [105, 1101, 339, 211], titleY: 1061, min: -0.1, max: 0.6, step: 0.1, nameGap: 75, xName: true },
  { title: 'GPU Max-Pooling', dims: gpuMPDims, truth: gpuMPTruth, pred: gpuMPPred,
    truthB: gpuMPTruthB, predB: gpuMPPredB,
    box: [550, 1100, 356, 210], titleY: 1061, min: -2, max: 12, step: 2, nameGap: 59, xName: true }
];

// vertical line joining truth and prediction of one dimension
function hiLo(params, api) {
  var a = api.coord([api.value(0), api.value(1)]);
  var b = api.coord([api.value(0), api.value(2)]);
  return {
    type: 'line',
    shape: { x1: a[0], y1: a[1], x2: b[0], y2: b[1] },
    style: { stroke: '#8c8c8c', lineWidth: 1.5 }
  };
}

function pts(arr) {
  return arr.map(function (v, i) { return [i, v]; });
}

var titles = [], grids = [], xAxes = [], yAxes = [], series = [];

panels.forEach(function (p, k) {
  var b = p.box;
  titles.push({
    text: p.title, left: b[0] + b[2] / 2, top: p.titleY - 13, textAlign: 'center', padding: 0,
    textStyle: { fontFamily: FONT, fontSize: 26, fontWeight: 'bold', color: TXT }
  });
  grids.push({ left: b[0], top: b[1], width: b[2], height: b[3], show: true,
    borderColor: '#000', borderWidth: 1.5, backgroundColor: '#fff' });
  xAxes.push({
    type: 'category', gridIndex: k, data: p.dims, boundaryGap: false,
    position: 'bottom', axisLine: { show: false, onZero: false }, axisTick: { show: false },
    axisLabel: { interval: 9, rotate: 90, margin: 14, fontFamily: FONT, fontSize: 17,
      fontWeight: 'bold', color: TXT },
    name: p.xName ? 'Matrix Dimension' : '', nameLocation: 'middle', nameGap: 62,
    nameTextStyle: { fontFamily: FONT, fontSize: 20.5, fontWeight: 'bold', color: TXT }
  });
  yAxes.push({
    type: 'value', gridIndex: k, min: p.min, max: p.max, interval: p.step,
    axisLine: { show: false }, axisTick: { show: false },
    splitLine: { lineStyle: { color: '#d9d9d9', width: 1.5 } },
    axisLabel: { margin: 22, fontFamily: FONT, fontSize: 18, fontWeight: 'bold', color: TXT },
    name: 'Execution Time (s)', nameLocation: 'middle', nameGap: p.nameGap,
    nameTextStyle: { fontFamily: FONT, fontSize: 19, fontWeight: 'bold', color: TXT }
  });
  var pairs = [];
  p.truthB.forEach(function (t, i) { pairs.push([i, t, p.predB[i]]); });
  p.truth.forEach(function (t, i) { pairs.push([i, t, p.pred[i]]); });
  series.push({
    type: 'custom', xAxisIndex: k, yAxisIndex: k, renderItem: hiLo, data: pairs,
    encode: { x: 0, y: [1, 2] }, silent: true, z: 1,
    markLine: p.min < 0 ? { silent: true, symbol: 'none', label: { show: false },
      lineStyle: { color: '#000', width: 1.5, type: 'solid' }, data: [{ yAxis: 0 }] } : undefined
  });
  series.push({
    name: 'Truth', type: 'scatter', xAxisIndex: k, yAxisIndex: k,
    data: pts(p.truthB).concat(pts(p.truth)),
    symbol: 'rect', symbolSize: 8, itemStyle: { color: BLUE }, clip: false, z: 2
  });
  series.push({
    name: 'Prediction', type: 'scatter', xAxisIndex: k, yAxisIndex: k,
    data: pts(p.predB).concat(pts(p.pred)),
    symbol: 'triangle', symbolSize: 9.5, itemStyle: { color: ORANGE }, clip: false, z: 3
  });
});

var chart = echarts.init(document.getElementById('main'));
chart.setOption({
  backgroundColor: '#fff',
  animation: false,
  title: titles,
  grid: grids,
  xAxis: xAxes,
  yAxis: yAxes,
  legend: {
    top: 1440, left: 'center', itemWidth: 11, itemHeight: 11, itemGap: 22,
    data: [{ name: 'Truth', icon: 'rect' }, { name: 'Prediction', icon: 'triangle' }],
    textStyle: { fontFamily: FONT, fontSize: 17, fontWeight: 'bold', color: TXT }
  },
  series: series
});
</script>
</body>
</html>
